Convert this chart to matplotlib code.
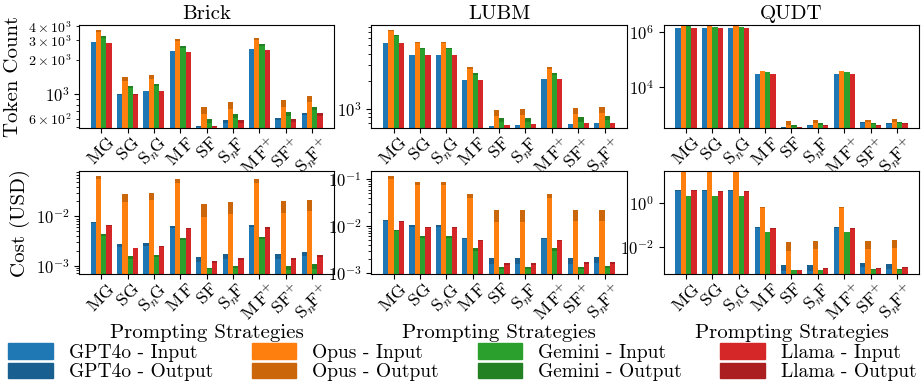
import numpy as np
import matplotlib
matplotlib.use('Agg')
import matplotlib.pyplot as plt
from matplotlib.patches import Patch

plt.rcParams['font.family'] = ['cmr10', 'DejaVu Serif']
plt.rcParams['mathtext.fontset'] = 'cm'
plt.rcParams['axes.formatter.use_mathtext'] = True

# categories
strategies = [r'$\mathrm{MG}$', r'$\mathrm{SG}$', r'$\mathrm{S}_n\!\mathrm{G}$', r'$\mathrm{M\,F}$',
              r'$\mathrm{SF}$', r'$\mathrm{S}_n\!\mathrm{F}$', r'$\mathrm{M\,F}^{+}$',
              r'$\mathrm{SF}^{+}$', r'$\mathrm{S}_n\!\mathrm{F}^{+}$']
models = ['GPT4o', 'Opus', 'Gemini', 'Llama']
datasets = ['Brick', 'LUBM', 'QUDT']

# token counts (rows: GPT4o, Opus, Gemini, Llama)
brick_tok_in = [
    [2870, 980, 1050, 2390, 505, 552, 2490, 579, 640],
    [3540, 1297, 1351, 2943, 659, 735, 3004, 766, 843],
    [3110, 1115, 1170, 2568, 552, 611, 2674, 637, 715],
    [2815, 982, 1051, 2340, 505, 552, 2439, 560, 633],
]
brick_tok_out = [
    [15, 7, 6, 7, 10, 31, 7, 32, 33],
    [150, 110, 105, 123, 101, 108, 125, 112, 110],
    [150, 55, 49, 87, 43, 48, 94, 50, 45],
    [10, 5, 5, 10, 10, 31, 10, 35, 40],
]
lubm_tok_in = [
    [5335, 3935, 3935, 2080, 639, 656, 2132, 673, 691],
    [7190, 5350, 5350, 2760, 837, 859, 2760, 881, 904],
    [6280, 4510, 4590, 2372, 707, 707, 2372, 719, 756],
    [5340, 3935, 3935, 2080, 656, 673, 2132, 691, 691],
]
lubm_tok_out = [
    [15, 10, 10, 10, 10, 10, 10, 10, 10],
    [240, 130, 130, 145, 138, 141, 145, 145, 148],
    [160, 115, 117, 123, 89, 89, 123, 97, 81],
    [10, 10, 10, 10, 10, 10, 10, 10, 10],
]
qudt_tok_in = [
    [1.32e6, 1.32e6, 1.32e6, 30070, 361, 428, 30070, 538, 492],
    [1.9e6, 1.9e6, 1.9e6, 37500, 443, 522, 37500, 551, 583],
    [1.8e6, 1.45e6, 1.45e6, 35000, 386, 456, 35000, 474, 506],
    [1.32e6, 1.32e6, 1.32e6, 30070, 361, 428, 30070, 428, 492],
]
qudt_tok_out = [
    [100, 100, 100, 30, 15, 15, 30, 30, 30],
    [1e5, 1e5, 1e5, 1100, 174, 148, 1100, 119, 165],
    [5e4, 2e4, 2e4, 600, 57, 81, 600, 63, 77],
    [100, 100, 100, 30, 15, 15, 30, 15, 30],
]

# cost in USD
brick_cost_in = [
    [7.3e-3, 2.35e-3, 2.51e-3, 5.87e-3, 1.19e-3, 1.34e-3, 5.96e-3, 1.34e-3, 1.55e-3],
    [0.0562, 0.0192, 0.0211, 0.0474, 9.54e-3, 0.0110, 0.0474, 0.0117, 0.0126],
    [3.93e-3, 1.34e-3, 1.47e-3, 3.26e-3, 8.6e-4, 8.85e-4, 3.42e-3, 8.0e-4, 8.5e-4],
    [6.47e-3, 2.25e-3, 2.35e-3, 5.45e-3, 1.13e-3, 1.30e-3, 5.62e-3, 1.30e-3, 1.47e-3],
]
brick_cost_out = [
    [2.5e-4, 3.5e-4, 3.3e-4, 4.0e-4, 2.8e-4, 3.6e-4, 6.1e-4, 3.6e-4, 3.1e-4],
    [8.5e-3, 8.7e-3, 8.1e-3, 8.8e-3, 7.96e-3, 8.2e-3, 8.8e-3, 8.4e-3, 8.5e-3],
    [3.9e-4, 2.1e-4, 2.0e-4, 3.2e-4, 2.5e-5, 8.5e-5, 3.3e-4, 1.7e-4, 2.1e-4],
    [3.1e-4, 7e-5, 1.2e-4, 2.6e-4, 9e-5, 1.0e-4, 3.4e-4, 1.0e-4, 1.5e-4],
]
lubm_cost_in = [
    [0.0128, 9.5e-3, 9.5e-3, 5.18e-3, 1.53e-3, 1.53e-3, 5.18e-3, 1.53e-3, 1.61e-3],
    [0.1017, 0.0757, 0.0757, 0.0405, 0.0122, 0.0122, 0.0405, 0.0128, 0.0128],
    [7.8e-3, 5.6e-3, 5.6e-3, 2.91e-3, 1.2e-3, 1.2e-3, 2.91e-3, 1.2e-3, 1.25e-3],
    [0.0120, 9.06e-3, 9.06e-3, 4.77e-3, 1.46e-3, 1.46e-3, 4.77e-3, 1.53e-3, 1.53e-3],
]
lubm_cost_out = [
    [6.5e-4, 1.0e-3, 1.0e-3, 3.5e-4, 5.3e-4, 5.3e-4, 3.5e-4, 5.3e-4, 5.6e-4],
    [0.0126, 0.0119, 0.0119, 7.9e-3, 9.8e-3, 9.8e-3, 7.9e-3, 9.2e-3, 9.2e-3],
    [4e-4, 5e-4, 5e-4, 4.7e-4, 1.2e-4, 1.2e-4, 4.7e-4, 1.2e-4, 1.4e-4],
    [8e-4, 4.4e-4, 4.4e-4, 2.4e-4, 1.5e-4, 1.5e-4, 2.4e-4, 1.7e-4, 1.7e-4],
]
qudt_cost_in = [
    [3.6, 3.6, 3.6, 0.075, 8.1e-4, 8.1e-4, 0.075, 1.2e-3, 1.0e-3],
    [28, 28, 28, 0.572, 6.36e-3, 7.8e-3, 0.572, 7.8e-3, 8.7e-3],
    [1.95, 1.95, 1.95, 0.045, 8.6e-4, 8.6e-4, 0.045, 8.6e-4, 8.6e-4],
    [3.6, 3.25, 3.25, 0.068, 8.6e-4, 9.6e-4, 0.068, 9.6e-4, 1.07e-3],
]
qudt_cost_out = [
    [0.16, 0.16, 0.16, 3.3e-3, 6.6e-4, 6.6e-4, 3.3e-3, 6.2e-4, 6.0e-4],
    [2, 2, 2, 0.042, 9.9e-3, 0.0103, 0.042, 0.0103, 0.0114],
    [0.06, 0.06, 0.06, 1.4e-3, 4e-5, 4e-5, 1.4e-3, 1.0e-4, 1.0e-4],
    [0.16, 0.14, 0.14, 2.6e-3, 4e-5, 1.1e-4, 2.6e-3, 1.1e-4, 1.3e-4],
]

colors_in = ['#1f77b4', '#ff7f0e', '#2ca02c', '#d62728']
colors_out = ['#195f90', '#cc660b', '#238023', '#ab1f20']

panels = [
    [(brick_tok_in, brick_tok_out, (495, 4100)),
     (lubm_tok_in, lubm_tok_out, (612, 8400)),
     (qudt_tok_in, qudt_tok_out, (350, 1.74e6))],
    [(brick_cost_in, brick_cost_out, (6.7e-4, 0.082)),
     (lubm_cost_in, lubm_cost_out, (9.4e-4, 0.148)),
     (qudt_cost_in, qudt_cost_out, (5.7e-4, 27.5))],
]

fig, axes = plt.subplots(2, 3, figsize=(9.21, 3.9), dpi=100)
plt.subplots_adjust(left=0.0858, right=0.998, top=0.936, bottom=0.297, wspace=0.145, hspace=0.42)

x = np.arange(len(strategies))
w = 0.2
for r in range(2):
    for c in range(3):
        ax = axes[r, c]
        vin, vout, lim = panels[r][c]
        for m in range(4):
            pos = x + (m - 1.5) * w
            ax.bar(pos, vin[m], width=w, color=colors_in[m])
            ax.bar(pos, vout[m], width=w, bottom=vin[m], color=colors_out[m])
        ax.set_yscale('log')
        ax.set_ylim(*lim)
        ax.set_xticks(x)
        ax.set_xticklabels(strategies, rotation=45, ha='center', fontsize=13)
        ax.tick_params(axis='x', pad=1)
        ax.tick_params(axis='y', labelsize=12)
        if r == 0:
            ax.set_title(datasets[c], fontsize=15, pad=4)
        else:
            ax.set_xlabel('Prompting Strategies', fontsize=15, labelpad=0)

axes[0, 0].set_ylabel('Token Count', fontsize=15)
axes[1, 0].set_ylabel('Cost (USD)', fontsize=15)

handles = []
for m in range(4):
    handles.append(Patch(color=colors_in[m], label=models[m] + ' - Input'))
    handles.append(Patch(color=colors_out[m], label=models[m] + ' - Output'))
fig.legend(handles=handles, loc='lower center', bbox_to_anchor=(0.502, -0.022), ncol=4,
           frameon=False, fontsize=14, handlelength=2.3, handleheight=0.85,
           handletextpad=0.8, columnspacing=2.0, labelspacing=0.05)

plt.savefig('out.png', dpi=100)
